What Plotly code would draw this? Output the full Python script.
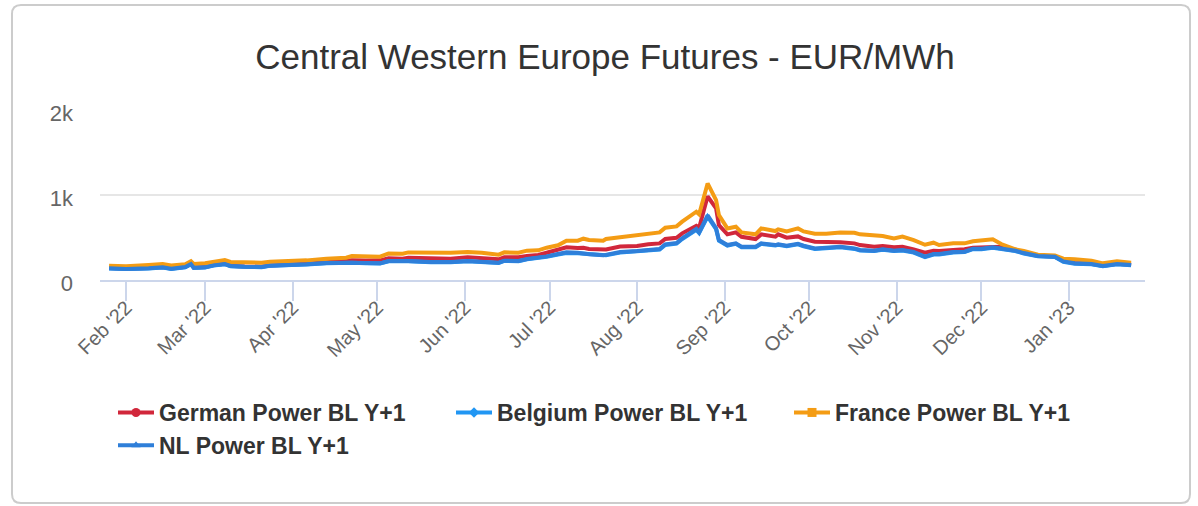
import plotly.graph_objects as go

# ---------------- data ----------------
dates = [
    "2022-01-26", "2022-02-01", "2022-02-09", "2022-02-14", "2022-02-17", "2022-02-22",
    "2022-02-24", "2022-02-25", "2022-03-01", "2022-03-04", "2022-03-08", "2022-03-10",
    "2022-03-15", "2022-03-21", "2022-03-24", "2022-03-30", "2022-04-06", "2022-04-13",
    "2022-04-20", "2022-04-22", "2022-04-27", "2022-05-02", "2022-05-05", "2022-05-10",
    "2022-05-12", "2022-05-20", "2022-05-27", "2022-06-02", "2022-06-07", "2022-06-13",
    "2022-06-15", "2022-06-20", "2022-06-23", "2022-06-27", "2022-06-30", "2022-07-04",
    "2022-07-07", "2022-07-11", "2022-07-13", "2022-07-15", "2022-07-20", "2022-07-21",
    "2022-07-26", "2022-08-01", "2022-08-05", "2022-08-09", "2022-08-11", "2022-08-15",
    "2022-08-17", "2022-08-22", "2022-08-23", "2022-08-26", "2022-08-29", "2022-08-30",
    "2022-09-02", "2022-09-05", "2022-09-07", "2022-09-12", "2022-09-14", "2022-09-19",
    "2022-09-20", "2022-09-23", "2022-09-27", "2022-09-29", "2022-10-03", "2022-10-07",
    "2022-10-12", "2022-10-17", "2022-10-19", "2022-10-24", "2022-10-27", "2022-10-31",
    "2022-11-03", "2022-11-07", "2022-11-10", "2022-11-11", "2022-11-14", "2022-11-16",
    "2022-11-21", "2022-11-25", "2022-11-28", "2022-12-01", "2022-12-05", "2022-12-08",
    "2022-12-13", "2022-12-16", "2022-12-21", "2022-12-27", "2022-12-30", "2023-01-03",
    "2023-01-09", "2023-01-13", "2023-01-18", "2023-01-23",
]

france = [
    168, 161, 176, 188, 172, 184, 220, 188, 196, 215, 235, 212,
    208, 204, 215, 220, 231, 251, 262, 282, 274, 274, 313, 309,
    325, 321, 321, 329, 321, 298, 325, 321, 345, 349, 380, 408,
    462, 462, 486, 470, 462, 482, 505, 521, 545, 560, 615, 631,
    686, 803, 772, 1136, 940, 764, 607, 627, 560, 537, 607, 576,
    596, 571, 607, 571, 545, 545, 560, 556, 537, 530, 517, 490,
    510, 470, 431, 415, 439, 411, 431, 431, 455, 462, 478, 423,
    361, 341, 298, 288, 251, 243, 227, 196, 220, 204,
]

german = [
    142, 132, 140, 152, 136, 156, 192, 148, 152, 175, 192, 168,
    160, 156, 172, 176, 190, 208, 225, 231, 230, 231, 255, 251,
    262, 255, 251, 267, 259, 243, 267, 267, 282, 294, 321, 353,
    384, 376, 380, 364, 353, 360, 394, 400, 420, 431, 482, 497,
    549, 638, 615, 985, 843, 647, 537, 560, 509, 482, 537, 509,
    537, 498, 513, 482, 451, 451, 443, 431, 411, 390, 400, 384,
    392, 361, 329, 322, 345, 340, 353, 361, 380, 384, 392, 392,
    356, 322, 285, 276, 222, 200, 192, 168, 192, 180,
]

belgium = [
    136, 128, 135, 147, 131, 150, 185, 142, 147, 170, 186, 163,
    155, 151, 167, 170, 182, 198, 205, 202, 198, 194, 220, 212,
    220, 208, 208, 221, 212, 200, 224, 220, 243, 255, 274, 300,
    318, 314, 310, 296, 285, 292, 322, 335, 347, 358, 412, 428,
    482, 590, 552, 745, 600, 462, 405, 425, 386, 386, 425, 405,
    414, 397, 420, 397, 366, 374, 386, 366, 347, 340, 355, 340,
    348, 322, 276, 268, 300, 300, 323, 328, 362, 362, 378, 362,
    340, 312, 278, 270, 215, 192, 184, 162, 184, 172,
]

nl = [
    138, 129, 137, 149, 133, 153, 188, 145, 149, 172, 188, 165,
    157, 153, 169, 172, 184, 200, 208, 204, 200, 196, 223, 215,
    223, 211, 211, 223, 215, 204, 227, 223, 247, 258, 278, 306,
    325, 321, 317, 302, 290, 298, 329, 341, 353, 364, 420, 435,
    490, 600, 560, 760, 607, 470, 411, 431, 392, 392, 431, 411,
    420, 403, 427, 403, 372, 380, 392, 372, 353, 345, 361, 345,
    353, 329, 282, 274, 306, 306, 329, 333, 368, 368, 384, 368,
    345, 317, 282, 274, 219, 196, 188, 165, 188, 176,
]

y_tick_vals = [0, 1000, 2000]
y_tick_text = ["0", "1k", "2k"]

series_names = ["German Power BL Y+1", "Belgium Power BL Y+1", "France Power BL Y+1", "NL Power BL Y+1"]
series_values = [german, belgium, france, nl]
series_colors = ["#d1273b", "#2196f3", "#f49c14", "#2f7fd9"]
series_symbols = ["circle", "diamond", "square", "triangle-up"]
series_marker_sizes = [9, 8, 9, 8]

# ---------------- layout geometry (pixels) ----------------
W, H = 1198, 506
PL, PR, PT, PB = 100, 1145, 110, 280  # plot area edges


def to_paper(px, py):
    return (px - PL) / (PR - PL), (PB - py) / (PB - PT)


def rounded_rect_path(left, top, right, bottom, r):
    def p(px, py):
        x, y = to_paper(px, py)
        return f"{x:.5f},{y:.5f}"
    return (
        f"M{p(left + r, top)} L{p(right - r, top)} Q{p(right, top)} {p(right, top + r)} "
        f"L{p(right, bottom - r)} Q{p(right, bottom)} {p(right - r, bottom)} "
        f"L{p(left + r, bottom)} Q{p(left, bottom)} {p(left, bottom - r)} "
        f"L{p(left, top + r)} Q{p(left, top)} {p(left + r, top)} Z"
    )


fig = go.Figure()

for name, vals, col in zip(series_names, series_values, series_colors):
    fig.add_trace(go.Scatter(
        x=dates, y=vals, mode="lines", name=name, legendgroup=name,
        showlegend=False, line=dict(color=col, width=4), hoverinfo="x+y+name",
    ))

for name, col, sym, ms in zip(series_names, series_colors, series_symbols, series_marker_sizes):
    fig.add_trace(go.Scatter(
        x=[None], y=[None], mode="lines+markers", name=name, legendgroup=name,
        line=dict(color=col, width=4), marker=dict(symbol=sym, size=ms, color=col),
    ))

FONT = "Liberation Sans, Arial, sans-serif"

fig.update_layout(
    width=W, height=H,
    autosize=False,
    margin=dict(l=PL, r=W - PR, t=PT, b=H - PB, pad=0),
    paper_bgcolor="white",
    plot_bgcolor="white",
    font=dict(family=FONT, color="#666666"),
    title=dict(
        text="Central Western Europe Futures - EUR/MWh",
        x=605 / W, xref="container", xanchor="center",
        y=1 - 57 / H, yref="container", yanchor="middle",
        font=dict(family=FONT, size=35, color="#333333"),
    ),
    xaxis=dict(
        type="date",
        range=["2022-01-22 19:00", "2023-01-27 22:00"],
        tick0="2022-02-01", dtick="M1", tickformat="%b '%y",
        tickangle=-45,
        ticks="outside", ticklen=19, tickwidth=2, tickcolor="#ccd6eb",
        showline=True, linecolor="#ccd6eb", linewidth=2,
        showgrid=False, zeroline=False,
        ticklabelstandoff=-13,
        tickfont=dict(family=FONT, size=20, color="#666666"),
    ),
    yaxis=dict(
        range=[0, 2000],
        tickvals=y_tick_vals, ticktext=y_tick_text,
        showgrid=True, gridcolor="#e6e6e6", gridwidth=2,
        zeroline=False, showline=False, ticks="",
        ticklabelstandoff=26,
        ticklabelshift=3,
        tickfont=dict(family=FONT, size=22, color="#666666"),
    ),
    legend=dict(
        orientation="h",
        x=(113 - PL) / (PR - PL), xanchor="left",
        y=(PB - 391) / (PB - PT), yanchor="top",
        entrywidth=287, entrywidthmode="pixels",
        itemwidth=36,
        font=dict(family=FONT, size=23, color="#333333", weight="bold"),
        bgcolor="rgba(0,0,0,0)",
        tracegroupgap=0,
    ),
    shapes=[dict(
        type="path", xref="paper", yref="paper",
        path=rounded_rect_path(12, 5, 1190, 503, 9),
        line=dict(color="#cccccc", width=2), fillcolor="rgba(0,0,0,0)", layer="below",
    )],
    showlegend=True,
)

fig.write_html(
    "out.html",
    config={"displayModeBar": False},
    post_script="document.body.style.margin='0';document.body.style.overflow='hidden';",
)
